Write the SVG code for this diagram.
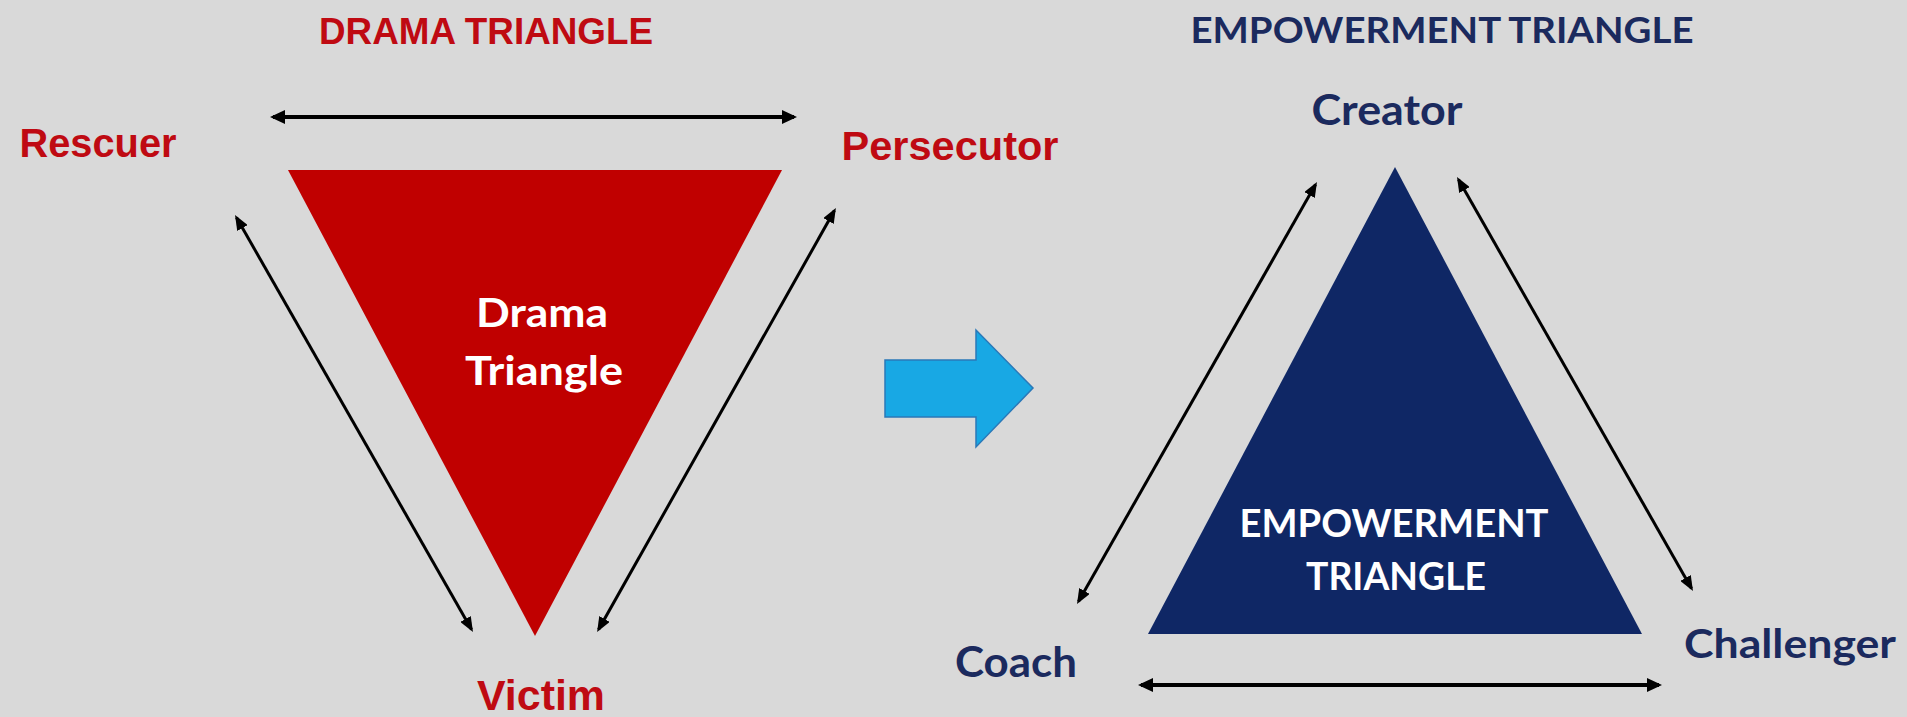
<svg xmlns="http://www.w3.org/2000/svg" width="1907" height="717" viewBox="0 0 1907 717">
<style>
.bg{fill:#D9D9D9}
.red{fill:#BF0A12;font-family:"Liberation Sans",Arial,sans-serif;font-weight:700}
.navy{fill:#1B2A5E;font-family:Lato,"Open Sans",sans-serif;font-weight:700}
.white{fill:#FFFFFF;font-family:Lato,"Open Sans",sans-serif;font-weight:700}
.conn{stroke:#000;fill:none;stroke-width:3;marker-start:url(#ah);marker-end:url(#ah)}
.thick{stroke-width:4;marker-start:url(#ahb);marker-end:url(#ahb)}
text{text-anchor:middle}
</style>
<defs>
<marker id="ah" markerUnits="userSpaceOnUse" markerWidth="15" markerHeight="12" viewBox="0 0 15 12" refX="12" refY="6" orient="auto-start-reverse">
<path d="M0,0 L15,6 L0,12 z" fill="#000"/>
</marker>
<marker id="ahb" markerUnits="userSpaceOnUse" markerWidth="15" markerHeight="14" viewBox="0 0 15 14" refX="12" refY="7" orient="auto-start-reverse">
<path d="M0,0 L15,7 L0,14 z" fill="#000"/>
</marker>
</defs>
<rect class="bg" x="0" y="0" width="1907" height="717"/>

<g id="drama-title"><text class="red" x="486" y="44" font-size="36" textLength="334" lengthAdjust="spacingAndGlyphs">DRAMA TRIANGLE</text></g>
<g id="drama-triangle">
<polygon points="288,170 782,170 535,636" fill="#C00000"/>
<text class="white" x="542" y="327" font-size="40" textLength="132" lengthAdjust="spacingAndGlyphs">Drama</text>
<text class="white" x="544" y="385" font-size="40" textLength="158" lengthAdjust="spacingAndGlyphs">Triangle</text>
</g>
<g id="rescuer"><text class="red" x="98" y="157" font-size="41" textLength="157" lengthAdjust="spacingAndGlyphs">Rescuer</text></g>
<g id="persecutor"><text class="red" x="950" y="160" font-size="41" textLength="217" lengthAdjust="spacingAndGlyphs">Persecutor</text></g>
<g id="victim"><text class="red" x="541" y="710" font-size="42" textLength="128" lengthAdjust="spacingAndGlyphs">Victim</text></g>

<g id="shift-arrow"><polygon points="885,360 976,360 976,330 1033,388 976,447 976,417 885,417" fill="#18A8E4" stroke="#2A78B8" stroke-width="1.5" stroke-linejoin="miter"/></g>

<g id="empowerment-title"><text class="navy" x="1442" y="43" font-size="36" textLength="503" lengthAdjust="spacingAndGlyphs">EMPOWERMENT TRIANGLE</text></g>
<g id="empowerment-triangle">
<polygon points="1395,167 1642,634 1148,634" fill="#0F2765"/>
<text class="white" x="1394" y="537" font-size="38" textLength="309" lengthAdjust="spacingAndGlyphs">EMPOWERMENT</text>
<text class="white" x="1396" y="590" font-size="38" textLength="180" lengthAdjust="spacingAndGlyphs">TRIANGLE</text>
</g>
<g id="creator"><text class="navy" x="1387" y="125" font-size="42" textLength="151" lengthAdjust="spacingAndGlyphs">Creator</text></g>
<g id="coach"><text class="navy" x="1016" y="677" font-size="42" textLength="122" lengthAdjust="spacingAndGlyphs">Coach</text></g>
<g id="challenger"><text class="navy" x="1790" y="658" font-size="41" textLength="212" lengthAdjust="spacingAndGlyphs">Challenger</text></g>

<g id="connectors">
<line class="conn thick" x1="273" y1="117" x2="794" y2="117"/>
<line class="conn" x1="236.5" y1="217.6" x2="471.5" y2="629.4"/>
<line class="conn" x1="834.4" y1="210.6" x2="598.6" y2="629.4"/>
<line class="conn" x1="1315.5" y1="184.6" x2="1078.5" y2="601.4"/>
<line class="conn" x1="1458.5" y1="179.6" x2="1691.5" y2="588.4"/>
<line class="conn thick" x1="1141" y1="685" x2="1659" y2="685"/>
</g>
</svg>
